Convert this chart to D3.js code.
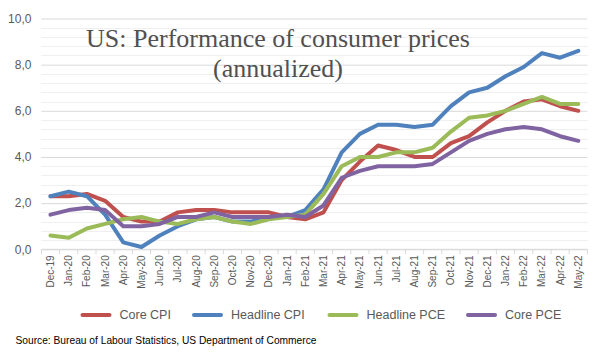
<!DOCTYPE html>
<html>
<head>
<meta charset="utf-8">
<script src="https://cdn.jsdelivr.net/npm/d3@7"></script>
<style>
  html, body { margin: 0; padding: 0; background: #ffffff; }
  svg { display: block; }
</style>
</head>
<body>
<svg id="chart" width="610" height="359"></svg>
<script>
const months = ["Dec-19","Jan-20","Feb-20","Mar-20","Apr-20","May-20","Jun-20","Jul-20","Aug-20","Sep-20","Oct-20","Nov-20","Dec-20","Jan-21","Feb-21","Mar-21","Apr-21","May-21","Jun-21","Jul-21","Aug-21","Sep-21","Oct-21","Nov-21","Dec-21","Jan-22","Feb-22","Mar-22","Apr-22","May-22"];
const coreCPI     = [2.3,2.3,2.4,2.1,1.4,1.2,1.2,1.6,1.7,1.7,1.6,1.6,1.6,1.4,1.3,1.6,3.0,3.8,4.5,4.3,4.0,4.0,4.6,4.9,5.5,6.0,6.4,6.5,6.2,6.0];
const headlineCPI = [2.3,2.5,2.3,1.5,0.3,0.1,0.6,1.0,1.3,1.4,1.2,1.2,1.4,1.4,1.7,2.6,4.2,5.0,5.4,5.4,5.3,5.4,6.2,6.8,7.0,7.5,7.9,8.5,8.3,8.6];
const headlinePCE = [0.6,0.5,0.9,1.1,1.3,1.4,1.2,1.1,1.3,1.4,1.2,1.1,1.3,1.4,1.5,2.4,3.6,4.0,4.0,4.2,4.2,4.4,5.1,5.7,5.8,6.0,6.3,6.6,6.3,6.3];
const corePCE     = [1.5,1.7,1.8,1.7,1.0,1.0,1.1,1.4,1.4,1.6,1.4,1.4,1.4,1.5,1.4,1.9,3.1,3.4,3.6,3.6,3.6,3.7,4.2,4.7,5.0,5.2,5.3,5.2,4.9,4.7];
const seriesNames = ["Core CPI","Headline CPI","Headline PCE","Core PCE"];
const yTicks = [0,2,4,6,8,10];
const titleLines = ["US: Performance of consumer prices","(annualized)"];
const sourceText = "Source: Bureau of Labour Statistics, US Department of Commerce";

const seriesValues = [coreCPI, headlineCPI, headlinePCE, corePCE];
const colors = ["#C0504D","#4F81BD","#9BBB59","#8064A2"];

const svg = d3.select("#chart");
const x = d3.scaleBand().domain(months).range([41.4, 587.4]).paddingInner(0).paddingOuter(0);
const y = d3.scaleLinear().domain([0,10]).range([249.3, 18.5]);
const xc = d => x(d) + x.bandwidth()/2;

// minor gridlines
const minor = d3.range(0, 10.0001, 0.4).filter(v => Math.abs(v/2 - Math.round(v/2)) > 1e-6);
svg.append("g").selectAll("line").data(minor).join("line")
  .attr("x1", 41.4).attr("x2", 587.4)
  .attr("y1", d => Math.round(y(d))+0.5).attr("y2", d => Math.round(y(d))+0.5)
  .attr("stroke", "#efefef").attr("stroke-width", 1);

// y axis with major gridlines
const yAxis = d3.axisLeft(y).tickValues(yTicks)
  .tickSize(-(587.4-41.4))
  .tickFormat(d => d3.format(".1f")(d).replace(".", ","));
const gy = svg.append("g").attr("transform", "translate(41.4,0)").call(yAxis);
gy.select(".domain").remove();
gy.selectAll(".tick line").attr("stroke", "#d9d9d9");
gy.selectAll(".tick text").attr("x", -10).attr("fill", "#595959")
  .style("font-family", "Liberation Sans, Arial, sans-serif").style("font-size", "12px");

// x axis
const gx = svg.append("g").attr("transform", `translate(0,${y(0)})`);
gx.append("line").attr("x1", 41.4).attr("x2", 587.4).attr("y1", 0).attr("y2", 0).attr("stroke", "#d9d9d9");
const bounds = months.map(m => x(m)).concat([x(months[months.length-1]) + x.bandwidth()]);
gx.selectAll("line.tk").data(bounds).join("line").attr("class","tk")
  .attr("x1", d => d).attr("x2", d => d).attr("y1", 0).attr("y2", 5).attr("stroke", "#d9d9d9");
gx.selectAll("text").data(months).join("text")
  .attr("transform", d => `translate(${xc(d)},6) rotate(-90)`)
  .attr("text-anchor", "end").attr("dy", "0.35em")
  .attr("fill", "#595959")
  .style("font-family", "Liberation Sans, Arial, sans-serif").style("font-size", "10px")
  .text(d => d);

// lines
const line = d3.line().x((v,i) => xc(months[i])).y(v => y(v));
seriesValues.forEach((vals, k) => {
  svg.append("path").datum(vals)
    .attr("d", line).attr("fill", "none")
    .attr("stroke", colors[k]).attr("stroke-width", 4)
    .attr("stroke-linejoin", "round").attr("stroke-linecap", "round");
});

// title
const title = svg.append("g");
const tBase = [47, 77];
titleLines.forEach((t, i) => {
  title.append("text").attr("x", 278).attr("y", tBase[i]).attr("text-anchor", "middle")
    .attr("fill", "#505050")
    .style("font-family", "Liberation Serif, Times New Roman, serif").style("font-size", "25px")
    .text(t);
});
// fit first line to reference width
const t0 = title.select("text").node();
const w0 = t0.getComputedTextLength();
const fs = 25 * 384 / w0;
title.selectAll("text").style("font-size", fs + "px");

// legend
const legX = [82.5, 194, 329.5, 468];
const lg = svg.append("g");
seriesNames.forEach((n, k) => {
  lg.append("line").attr("x1", legX[k]).attr("x2", legX[k] + 27).attr("y1", 315).attr("y2", 315)
    .attr("stroke", colors[k]).attr("stroke-width", 4).attr("stroke-linecap", "round");
  lg.append("text").attr("x", legX[k] + 37).attr("y", 315).attr("dy", "0.35em")
    .attr("fill", "#595959")
    .style("font-family", "Liberation Sans, Arial, sans-serif").style("font-size", "12.5px")
    .text(n);
});

// source
svg.append("text").attr("x", 15.5).attr("y", 344)
  .attr("fill", "#000")
  .style("font-family", "Liberation Sans, Arial, sans-serif").style("font-size", "10.5px")
  .attr("textLength", 301).attr("lengthAdjust", "spacingAndGlyphs")
  .text(sourceText);
</script>
</body>
</html>
